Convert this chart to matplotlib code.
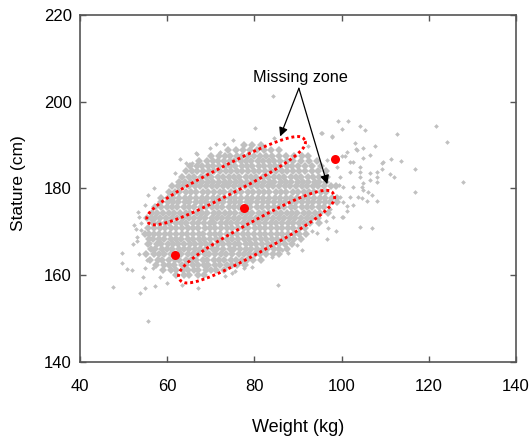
import numpy as np
import matplotlib
matplotlib.use('Agg')
import matplotlib.pyplot as plt

plt.rcParams['font.family'] = ['Liberation Sans', 'DejaVu Sans']

# sparse subjects outside the dense cloud (kg, cm)
outer_weight = [121.7, 124.2, 127.8, 116.8, 116.8, 112.6, 113.6, 111.3, 112.0, 111.1,
                109.3, 109.3, 108.1, 108.1, 108.1, 106.5, 106.4, 106.4, 107.6, 104.8,
                104.8, 105.4, 104.2, 106.9, 108.1, 105.8, 104.6, 104.6, 105.0, 104.2,
                99.2, 101.5, 95.2, 97.7, 100.0, 103.1, 101.2, 103.5, 96.6, 100.0,
                101.9, 104.2, 98.9, 101.9, 104.2, 99.6, 100.4, 102.7, 105.0, 99.6,
                101.9, 104.2, 106.9, 98.7, 96.6, 85.3, 101.3, 100.2, 101.2, 103.8,
                106.1, 109.6, 102.7, 103.3, 100.8, 93.1, 94.3, 89.7, 90.8, 87.8,
                86.3, 84.0, 73.3, 75.6, 77.8, 79.4, 96.4, 98.1, 100.4, 102.7,
                100.4, 98.9, 84.3, 80.1, 84.6, 71.2, 73.1, 72.1, 64.3, 65.6,
                61.8, 61.0, 60.6, 75.2, 47.5, 55.7, 53.8, 55.0, 57.2, 59.9,
                63.3, 67.1, 50.7, 51.9, 49.7, 49.6, 52.2, 53.6, 55.0, 56.8,
                54.5, 58.3, 53.6, 54.1, 56.1, 56.8, 55.3, 58.7, 74.8, 77.5,
                95.4, 97.7, 92.4, 69.8, 66.9, 52.8, 53.1, 52.4, 63.0, 66.6,
                53.0, 54.0, 53.4, 54.9, 55.6, 56.9, 97.4, 96.8, 99.3]
outer_stature = [194.3, 190.7, 181.5, 184.5, 179.3, 192.5, 186.4, 186.8, 182.7, 183.3,
                 185.8, 184.4, 183.9, 182.7, 181.4, 182.0, 183.5, 187.7, 189.8, 189.3,
                 187.0, 193.5, 194.3, 178.5, 177.2, 177.2, 177.8, 180.4, 181.2, 183.9,
                 195.6, 195.6, 192.9, 192.1, 193.7, 190.6, 188.5, 188.9, 186.6, 187.4,
                 186.2, 185.0, 185.0, 183.9, 182.7, 182.7, 180.4, 180.4, 179.7, 178.1,
                 178.1, 171.1, 171.0, 170.2, 168.3, 157.8, 174.7, 173.4, 176.0, 178.1,
                 179.3, 186.2, 186.2, 189.1, 187.4, 170.1, 169.7, 167.0, 165.9, 165.1,
                 165.9, 164.3, 159.9, 160.9, 162.4, 162.0, 172.4, 173.5, 173.5, 176.2,
                 177.0, 178.1, 201.3, 194.0, 191.7, 190.2, 190.2, 188.5, 185.8, 185.8,
                 183.5, 178.5, 177.4, 191.2, 157.4, 149.5, 156.0, 157.0, 157.6, 158.2,
                 157.8, 157.0, 161.4, 161.2, 162.8, 165.2, 167.2, 164.9, 161.6, 161.6,
                 159.7, 159.7, 173.5, 172.0, 167.4, 165.9, 163.5, 163.5, 160.5, 161.6,
                 192.7, 191.9, 189.9, 189.4, 187.9, 170.6, 168.9, 171.7, 186.9, 188.2,
                 168.0, 170.4, 174.6, 176.3, 178.6, 180.1, 175.2, 171.0, 180.9]

# dense cloud, one list of weights per stature row
core_stature = [160.0, 161.3, 162.4, 163.5, 164.8, 166.1, 167.2, 168.3, 169.6, 170.9,
                172.0, 173.1, 174.4, 175.7, 176.8, 177.9, 179.2, 180.5, 181.6, 182.7,
                184.0, 185.3, 186.4, 187.5, 188.8, 190.0]
core_weight = [
    [62.0, 63.9, 65.1, 67.0, 68.4],
    [59.0, 60.9, 62.0, 63.6, 64.7, 66.2, 67.1, 68.8, 70.0, 71.2, 73.1],
    [57.4, 59.3, 60.4, 61.6, 63.3, 64.3, 65.9, 67.0, 68.4, 69.4, 71.0, 72.1, 73.7, 74.8, 76.0,
     77.9],
    [56.0, 57.8, 58.9, 60.5, 61.7, 62.8, 64.4, 65.4, 66.6, 68.2, 69.2, 70.8, 71.8, 73.1, 74.7,
     75.7, 77.1, 78.3, 79.6, 81.6],
    [55.2, 56.9, 58.0, 59.2, 60.8, 61.8, 63.2, 64.7, 65.8, 67.1, 68.6, 69.6, 70.9, 72.4, 73.5,
     74.8, 76.4, 77.5, 78.7, 80.2, 81.3, 82.7, 84.3, 85.7],
    [56.2, 57.3, 58.7, 60.0, 61.1, 62.6, 63.9, 64.9, 66.4, 67.6, 68.8, 70.4, 71.5, 72.8,
     74.3, 75.3, 76.6, 78.1, 79.2, 80.6, 81.9, 82.9, 84.5, 85.6, 87.5],
    [55.6, 57.6, 58.6, 60.1, 61.4, 62.4, 63.9, 65.2, 66.3, 67.8, 69.0, 70.1, 71.6, 72.7,
     74.1, 75.5, 76.5, 78.0, 79.3, 80.4, 81.8, 83.1, 84.2, 85.6, 86.9, 88.6],
    [55.9, 56.7, 58.2, 59.3, 60.9, 62.1, 63.2, 64.8, 65.9, 67.3, 68.5, 69.9, 71.1, 72.3,
     73.8, 74.9, 76.3, 77.6, 78.7, 80.2, 81.4, 82.6, 84.1, 85.2, 86.6, 87.9, 89.0, 90.6],
    [54.9, 55.9, 56.9, 58.0, 59.5, 60.6, 62.0, 63.4, 64.5, 65.8, 67.2, 68.3, 69.7, 71.0, 72.1,
     73.6, 74.8, 76.0, 77.4, 78.6, 79.9, 81.3, 82.4, 83.8, 85.1, 86.3, 87.7, 89.0, 90.2, 91.9],
    [55.6, 57.0, 58.3, 59.4, 60.9, 62.1, 63.3, 64.7, 66.0, 67.1, 68.6, 69.8, 70.9, 72.4,
     73.7, 74.8, 76.2, 77.5, 78.6, 80.1, 81.3, 82.5, 83.9, 85.1, 86.4, 87.8, 88.9, 90.4, 91.6],
    [56.7, 58.0, 59.4, 60.5, 62.0, 63.2, 64.4, 65.9, 67.0, 68.4, 69.7, 70.8, 72.3,
     73.5, 74.7, 76.1, 77.3, 78.5, 80.0, 81.1, 82.5, 83.8, 84.9, 86.4, 87.6, 88.8, 90.2, 91.4,
     92.8, 94.7],
    [55.4, 56.3, 57.3, 58.4, 59.8, 61.1, 62.3, 63.7, 64.9, 66.2, 67.5, 68.7, 70.2, 71.4, 72.6,
     74.0, 75.3, 76.4, 77.9, 79.1, 80.3, 81.8, 82.9, 84.3, 85.6, 86.7, 88.2, 89.4, 90.6, 92.1,
     93.3, 94.6],
    [56.6, 57.6, 59.0, 60.3, 61.5, 62.9, 64.2, 65.3, 66.8, 68.0, 69.2, 70.7, 71.8, 73.2,
     74.5, 75.6, 77.1, 78.3, 79.5, 81.0, 82.2, 83.4, 84.9, 86.0, 87.4, 88.7, 89.8, 91.3, 92.5,
     93.8, 95.1, 96.8],
    [57.3, 58.5, 59.9, 61.2, 62.3, 63.8, 65.0, 66.2, 67.7, 68.8, 70.2, 71.5, 72.6, 74.1,
     75.3, 76.5, 78.0, 79.1, 80.5, 81.8, 83.0, 84.4, 85.6, 86.8, 88.3, 89.4, 90.8, 92.1, 93.3,
     94.7, 96.0],
    [58.6, 60.1, 61.3, 62.5, 64.0, 65.1, 66.5, 67.8, 69.0, 70.4, 71.7, 72.8, 74.3, 75.5,
     76.7, 78.2, 79.3, 80.7, 82.0, 83.1, 84.6, 85.8, 87.0, 88.5, 89.6, 91.0, 92.3, 93.5, 94.9,
     96.2, 97.4, 98.9],
    [58.6, 60.2, 61.4, 62.7, 64.1, 65.2, 66.7, 67.9, 69.1, 70.6, 71.7, 73.1, 74.4, 75.5, 77.0,
     78.2, 79.4, 80.9, 82.0, 83.4, 84.7, 85.8, 87.3, 88.5, 89.7, 91.2, 92.3, 93.7, 95.0, 96.2,
     97.7, 99.0],
    [60.3, 61.7, 62.8, 64.3, 65.5, 66.7, 68.2, 69.3, 70.7, 72.0, 73.1, 74.6, 75.8, 77.0, 78.5,
     79.6, 81.0, 82.3, 83.4, 84.9, 86.1, 87.3, 88.8, 89.9, 91.3, 92.6, 93.7, 95.2, 96.5],
    [61.0, 62.5, 63.7, 65.1, 66.4, 67.5, 69.0, 70.2, 71.4, 72.9, 74.0, 75.4, 76.7, 77.8, 79.3,
     80.5, 81.7, 83.2, 84.3, 85.7, 87.0, 88.1, 89.6, 90.8, 92.0, 93.5, 94.6, 96.0, 97.5, 98.6],
    [62.7, 64.0, 65.4, 66.6, 67.9, 69.3, 70.5, 71.8, 73.2, 74.3, 75.7, 77.0, 78.2, 79.6, 80.8,
     82.1, 83.5, 84.6, 86.0, 87.3, 88.5, 89.9, 91.1, 92.4, 93.8, 94.9, 96.5],
    [63.4, 65.1, 66.2, 67.7, 68.9, 70.1, 71.6, 72.7, 74.1, 75.4, 76.5, 78.0, 79.2, 80.4, 81.9,
     83.0, 84.4, 85.7, 86.8, 88.3, 89.5, 90.7, 92.2, 93.4, 94.8, 96.6],
    [64.3, 65.7, 66.9, 68.3, 69.6, 70.7, 72.2, 73.4, 74.6, 76.1, 77.2, 78.6, 79.9, 81.0, 82.5,
     83.7, 84.9, 86.4, 87.5, 88.9, 90.2, 91.6, 93.1, 94.6, 96.4],
    [65.2, 66.8, 68.0, 69.3, 70.6, 71.8, 73.2, 74.5, 75.6, 77.1, 78.3, 79.5, 81.0, 82.1, 83.5,
     84.8, 85.9, 87.4, 88.6, 90.0, 91.5, 93.3, 95.2],
    [67.4, 69.1, 70.4, 71.6, 73.0, 74.3, 75.4, 76.9, 78.1, 79.3, 80.8, 81.9, 83.3, 84.6, 85.8,
     87.4, 88.9, 90.6, 92.5, 94.3],
    [70.1, 71.9, 73.2, 74.5, 75.9, 77.1, 78.6, 79.8, 81.2, 82.7, 84.1, 85.6, 87.3, 89.1, 91.0,
     92.4],
    [73.9, 75.8, 77.3, 78.9, 80.5, 82.1, 83.9, 85.6],
    [77.6, 79.5, 81.4],
]

# group means (red dots)
mean_weight = [61.7, 77.5, 98.5]
mean_stature = [164.7, 175.5, 186.7]

# missing zones: centre x, centre y, half length, half width, angle (deg)
zone_upper = [73.5, 181.8, 20.3, 3.2, 27.5]
zone_lower = [80.5, 168.9, 20.2, 3.5, 29.0]

x_ticks = [40, 60, 80, 100, 120, 140]
y_ticks = [140, 160, 180, 200, 220]


def zone_outline(cx, cy, half_len, half_wid, angle, n=2.6):
    t = np.linspace(0, 2 * np.pi, 400)
    c, s = np.cos(t), np.sin(t)
    u = half_len * np.sign(c) * np.abs(c) ** (2 / n)
    v = half_wid * np.sign(s) * np.abs(s) ** (2 / n)
    a = np.radians(angle)
    return cx + u * np.cos(a) - v * np.sin(a), cy + u * np.sin(a) + v * np.cos(a)


core_x = [w for row in core_weight for w in row]
core_y = [s for s, row in zip(core_stature, core_weight) for _ in row]

fig = plt.figure(figsize=(5.31, 4.37), dpi=100)
ax = fig.add_axes([0.1507, 0.1716, 0.8211, 0.7941])

gray = '#c0c0c0'
ax.plot(core_x, core_y, 'D', color=gray, markersize=4.5, markeredgewidth=0, zorder=1)
ax.plot(outer_weight, outer_stature, 'D', color=gray, markersize=2.4, markeredgewidth=0, zorder=1)

for zone in (zone_upper, zone_lower):
    zx, zy = zone_outline(*zone)
    ax.plot(zx, zy, color='red', lw=2.1, linestyle=(0, (1, 1)), zorder=3)

ax.plot(mean_weight, mean_stature, 'o', color='red', markersize=6.5, markeredgewidth=0, zorder=4)

ax.text(90.6, 205.7, 'Missing zone', ha='center', va='center', fontsize=11.7)
arrow = dict(arrowstyle='-|>', color='black', lw=0.9, mutation_scale=13, shrinkA=0, shrinkB=0)
ax.annotate('', xy=(85.9, 192.0), xytext=(90.2, 203.1), arrowprops=arrow)
ax.annotate('', xy=(96.7, 181.0), xytext=(90.2, 203.1), arrowprops=arrow)

ax.set_xlim(40, 140)
ax.set_ylim(140, 220)
ax.set_xticks(x_ticks)
ax.set_yticks(y_ticks)
ax.tick_params(direction='in', top=True, right=True, length=4, width=1, color='#555555',
               labelsize=12)
ax.tick_params(axis='x', pad=12)
ax.tick_params(axis='y', pad=6)
for sp in ax.spines.values():
    sp.set_color('#555555')
    sp.set_linewidth(1.2)

ax.set_xlabel('Weight (kg)', fontsize=13, labelpad=18)
ax.set_ylabel('Stature (cm)', fontsize=12.5, labelpad=9)
ax.yaxis.set_label_coords(-0.125, 0.515)

fig.savefig('out.png', dpi=100)
